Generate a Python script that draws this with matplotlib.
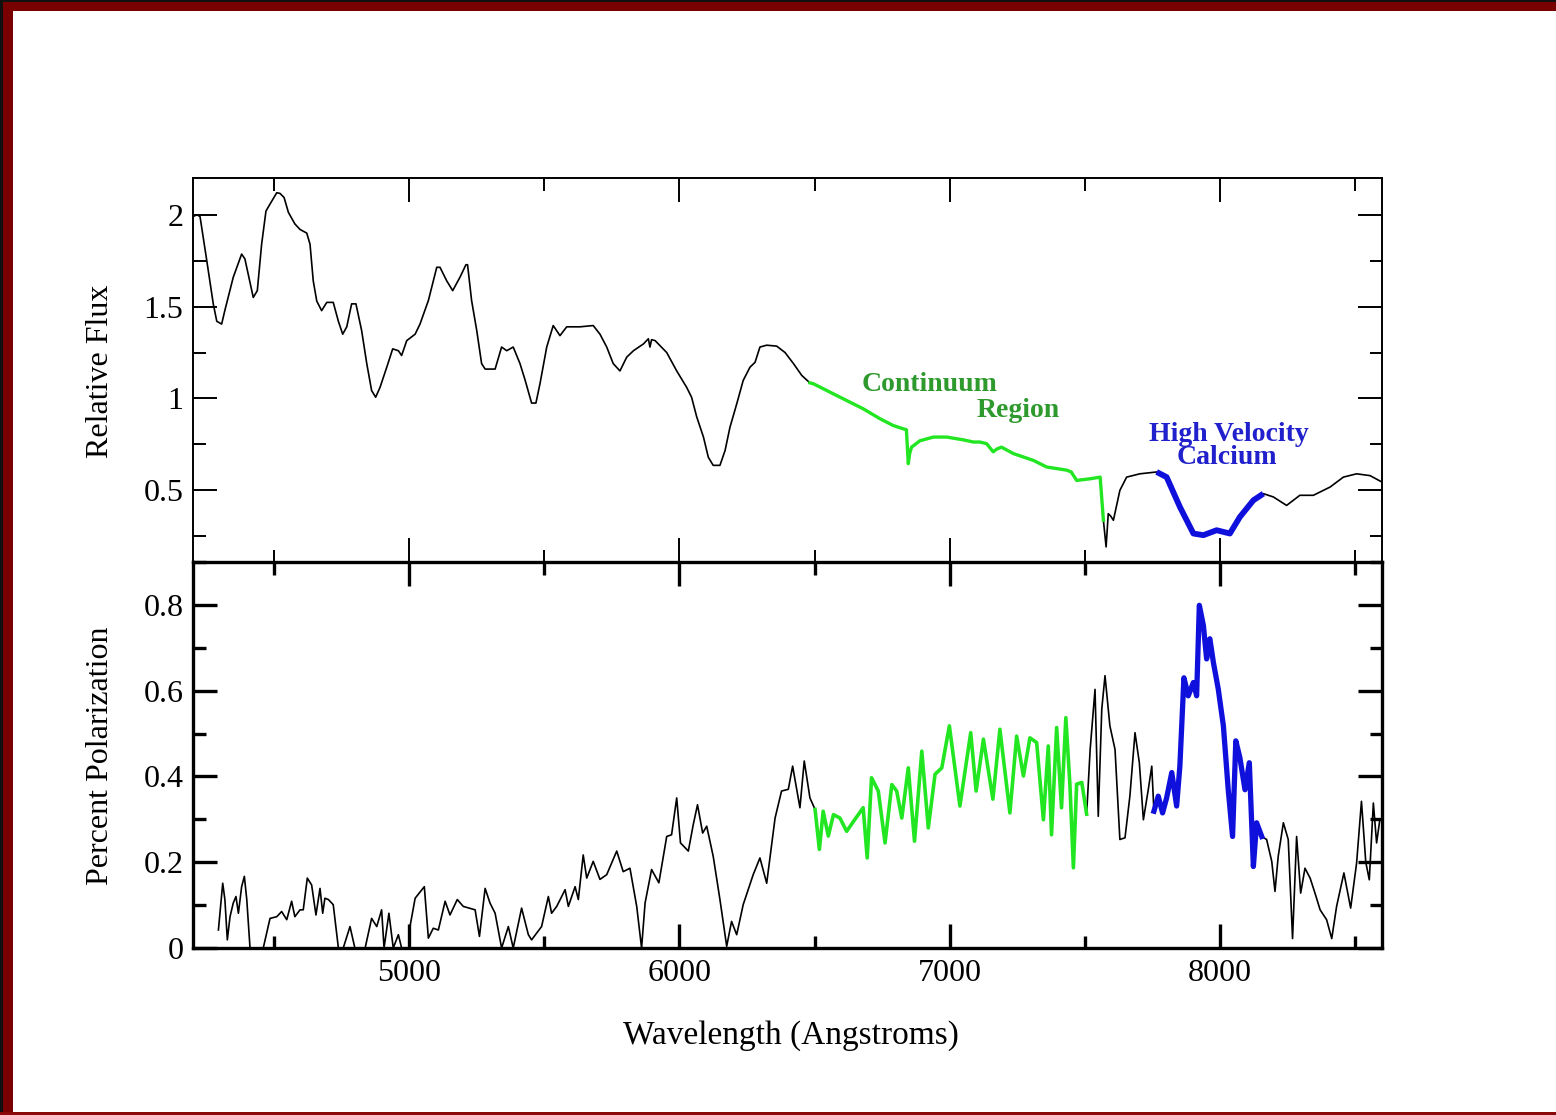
import numpy as np
import matplotlib
matplotlib.use("Agg")
import matplotlib.pyplot as plt
from matplotlib.patches import Rectangle
from matplotlib.ticker import MultipleLocator, FormatStrFormatter

plt.rcParams['font.family'] = ['Liberation Serif', 'DejaVu Serif']

# flux spectrum (wavelength in Angstroms, relative flux)
flux_wave = np.array([
    4200, 4215, 4226, 4251, 4275, 4288, 4306, 4318, 4349, 4380, 4392, 4423, 4438,
    4454, 4470, 4485, 4510, 4522, 4537, 4553, 4577, 4596, 4621, 4633, 4645, 4658,
    4676, 4695, 4719, 4738, 4754, 4769, 4787, 4803, 4824, 4843, 4861, 4876, 4892,
    4917, 4939, 4960, 4972, 4991, 5022, 5040, 5071, 5102, 5114, 5139, 5161, 5188,
    5210, 5216, 5231, 5250, 5268, 5281, 5318, 5342, 5361, 5385, 5410, 5429, 5453,
    5469, 5484, 5509, 5533, 5558, 5583, 5632, 5681, 5706, 5731, 5755, 5780, 5805,
    5830, 5867, 5885, 5891, 5897, 5910, 5953, 5990, 6027, 6045, 6064, 6089, 6107,
    6125, 6150, 6169, 6187, 6212, 6236, 6261, 6280, 6298, 6323, 6360, 6391, 6422,
    6453, 6483, 6496, 6570, 6680, 6742, 6791, 6828, 6840, 6847, 6852, 6859, 6890,
    6940, 6989, 7050, 7088, 7112, 7137, 7161, 7175, 7192, 7236, 7310, 7359, 7433,
    7450, 7470, 7520, 7557, 7569, 7579, 7587, 7596, 7606, 7630, 7655, 7704, 7766,
    7803, 7852, 7902, 7939, 7988, 8037, 8074, 8124, 8161, 8198, 8247, 8296, 8346,
    8408, 8457, 8506, 8556, 8600])
flux_val = np.array([
    1.99, 2.00, 1.99, 1.75, 1.515, 1.42, 1.405, 1.48, 1.66, 1.786, 1.76, 1.55, 1.587,
    1.84, 2.02, 2.058, 2.12, 2.116, 2.094, 2.013, 1.95, 1.92, 1.90, 1.84, 1.64, 1.53,
    1.478, 1.523, 1.523, 1.42, 1.35, 1.39, 1.515, 1.515, 1.37, 1.19, 1.043, 1.007, 1.06,
    1.17, 1.27, 1.26, 1.234, 1.315, 1.35, 1.405, 1.533, 1.714, 1.714, 1.64, 1.587, 1.66,
    1.728, 1.728, 1.533, 1.37, 1.19, 1.16, 1.16, 1.28, 1.26, 1.28, 1.19, 1.10, 0.975,
    0.975, 1.08, 1.28, 1.397, 1.342, 1.39, 1.39, 1.397, 1.35, 1.28, 1.19, 1.15, 1.225,
    1.26, 1.297, 1.325, 1.28, 1.32, 1.315, 1.25, 1.15, 1.06, 1.007, 0.90, 0.79, 0.68,
    0.636, 0.636, 0.717, 0.843, 0.97, 1.098, 1.17, 1.197, 1.28, 1.29, 1.285, 1.25, 1.19,
    1.125, 1.085, 1.08, 1.025, 0.944, 0.89, 0.853, 0.835, 0.83, 0.645, 0.70, 0.735, 0.77,
    0.79, 0.79, 0.775, 0.763, 0.763, 0.754, 0.71, 0.725, 0.735, 0.70, 0.663, 0.627, 0.61,
    0.60, 0.554, 0.563, 0.572, 0.337, 0.192, 0.373, 0.36, 0.337, 0.50, 0.572, 0.59, 0.60,
    0.572, 0.41, 0.265, 0.256, 0.283, 0.265, 0.355, 0.446, 0.482, 0.464, 0.418, 0.473, 0.473,
    0.518, 0.572, 0.59, 0.58, 0.545])

# percent polarization
pol_wave = np.array([
    4294, 4310, 4318, 4327, 4337, 4349, 4359, 4368, 4380, 4390, 4399, 4411, 4460,
    4485, 4510, 4528, 4547, 4565, 4577, 4596, 4608, 4623, 4639, 4655, 4670, 4680,
    4688, 4701, 4719, 4738, 4756, 4781, 4799, 4837, 4861, 4880, 4898, 4907, 4925,
    4941, 4960, 4972, 5000, 5003, 5022, 5056, 5071, 5089, 5108, 5133, 5151, 5178,
    5200, 5244, 5260, 5281, 5299, 5318, 5342, 5367, 5385, 5416, 5441, 5453, 5490,
    5515, 5527, 5546, 5577, 5589, 5614, 5626, 5644, 5657, 5681, 5706, 5731, 5768,
    5792, 5817, 5842, 5860, 5873, 5897, 5924, 5953, 5971, 5990, 6004, 6033, 6051,
    6067, 6086, 6101, 6125, 6150, 6175, 6193, 6212, 6236, 6273, 6298, 6323, 6354,
    6378, 6403, 6419, 6446, 6462, 6483, 6502, 6518, 6532, 6551, 6570, 6594, 6619,
    6644, 6680, 6695, 6711, 6736, 6761, 6786, 6804, 6823, 6847, 6870, 6897, 6921,
    6946, 6971, 6999, 7038, 7078, 7098, 7125, 7160, 7186, 7223, 7248, 7273, 7297,
    7322, 7347, 7365, 7377, 7396, 7414, 7430, 7445, 7458, 7470, 7489, 7507, 7520,
    7538, 7550, 7563, 7575, 7593, 7612, 7630, 7649, 7667, 7686, 7702, 7717, 7735,
    7748, 7756, 7772, 7788, 7803, 7822, 7840, 7852, 7867, 7883, 7902, 7914, 7924,
    7939, 7951, 7963, 7976, 7994, 8013, 8031, 8047, 8059, 8074, 8093, 8109, 8124,
    8136, 8155, 8173, 8192, 8204, 8216, 8235, 8253, 8269, 8284, 8299, 8315, 8334,
    8352, 8371, 8395, 8414, 8432, 8459, 8484, 8506, 8524, 8540, 8553, 8568, 8580,
    8592, 8600])
pol_val = np.array([
    0.042, 0.151, 0.113, 0.019, 0.073, 0.105, 0.12, 0.081, 0.143, 0.167, 0.113, 0.0, 0.0,
    0.069, 0.073, 0.085, 0.066, 0.109, 0.073, 0.089, 0.089, 0.163, 0.147, 0.077, 0.139, 0.081,
    0.116, 0.113, 0.101, 0.0, 0.0, 0.05, 0.0, 0.0, 0.069, 0.05, 0.089, 0.0, 0.081,
    0.0, 0.031, 0.0, 0.0, 0.05, 0.116, 0.143, 0.023, 0.046, 0.042, 0.109, 0.077, 0.113,
    0.097, 0.089, 0.027, 0.139, 0.105, 0.081, 0.0, 0.05, 0.0, 0.093, 0.031, 0.019, 0.05,
    0.12, 0.081, 0.097, 0.136, 0.097, 0.143, 0.113, 0.217, 0.163, 0.202, 0.16, 0.171, 0.226,
    0.178, 0.186, 0.097, 0.0, 0.105, 0.183, 0.152, 0.26, 0.264, 0.35, 0.245, 0.226, 0.287,
    0.334, 0.268, 0.284, 0.214, 0.113, 0.004, 0.062, 0.031, 0.101, 0.171, 0.21, 0.151, 0.303,
    0.366, 0.37, 0.424, 0.327, 0.436, 0.35, 0.323, 0.23, 0.319, 0.261, 0.311, 0.303, 0.272,
    0.295, 0.327, 0.21, 0.397, 0.366, 0.245, 0.381, 0.366, 0.303, 0.42, 0.249, 0.459, 0.28,
    0.405, 0.42, 0.518, 0.331, 0.502, 0.366, 0.487, 0.347, 0.51, 0.315, 0.494, 0.401, 0.49,
    0.479, 0.299, 0.471, 0.264, 0.514, 0.327, 0.537, 0.382, 0.187, 0.382, 0.386, 0.312, 0.463,
    0.603, 0.307, 0.557, 0.635, 0.518, 0.463, 0.253, 0.257, 0.354, 0.502, 0.432, 0.299, 0.369,
    0.424, 0.319, 0.354, 0.315, 0.35, 0.409, 0.331, 0.424, 0.63, 0.588, 0.619, 0.588, 0.799,
    0.752, 0.674, 0.721, 0.666, 0.604, 0.518, 0.369, 0.26, 0.483, 0.444, 0.369, 0.432, 0.19,
    0.292, 0.26, 0.253, 0.202, 0.132, 0.214, 0.292, 0.253, 0.022, 0.26, 0.128, 0.186, 0.163,
    0.128, 0.089, 0.066, 0.022, 0.097, 0.175, 0.093, 0.198, 0.342, 0.2, 0.159, 0.338, 0.245,
    0.299, 0.30])

# highlighted wavelength ranges
flux_continuum = (6483, 7575)
flux_calcium = (7766, 8161)
pol_continuum = (6502, 7507)
pol_calcium = (7756, 8155)

GREEN = '#22e622'
BLUE = '#1010dd'
GREEN_TXT = '#2e9a2e'
BLUE_TXT = '#2020cc'

W, H = 1556, 1115
fig = plt.figure(figsize=(W / 100, H / 100), dpi=100)
fig.patch.set_facecolor('white')


def px(x, y):
    return x / W, 1 - y / H


left, right = 193 / W, 1382 / W
ax1 = fig.add_axes([left, 1 - 562 / H, right - left, (562 - 178) / H])
ax2 = fig.add_axes([left, 1 - 948 / H, right - left, (948 - 562) / H], sharex=ax1)


def segment(wave, val, lo, hi):
    m = (wave >= lo) & (wave <= hi)
    return wave[m], val[m]


# top: flux
ax1.plot(flux_wave, flux_val, color='black', lw=1.2)
ax1.plot(*segment(flux_wave, flux_val, *flux_continuum), color=GREEN, lw=2.4)
ax1.plot(*segment(flux_wave, flux_val, *flux_calcium), color=BLUE, lw=4.2,
         solid_capstyle='butt')
ax1.set_xlim(4200, 8600)
ax1.set_ylim(0.11, 2.2)
ax1.yaxis.set_major_locator(MultipleLocator(0.5))
ax1.yaxis.set_minor_locator(MultipleLocator(0.25))
ax1.yaxis.set_major_formatter(FormatStrFormatter('%g'))
note = dict(fontsize=20, fontweight='bold', ha='center', va='center')
ax1.text(6927, 1.076, 'Continuum', color=GREEN_TXT, **note)
ax1.text(7253, 0.935, 'Region', color=GREEN_TXT, **note)
ax1.text(8032, 0.806, 'High Velocity', color=BLUE_TXT, **note)
ax1.text(8026, 0.679, 'Calcium', color=BLUE_TXT, **note)

# bottom: polarization
ax2.plot(pol_wave, pol_val, color='black', lw=1.2)
ax2.plot(*segment(pol_wave, pol_val, *pol_continuum), color=GREEN, lw=2.6)
ax2.plot(*segment(pol_wave, pol_val, *pol_calcium), color=BLUE, lw=3.8)
ax2.set_ylim(0, 0.9)
ax2.yaxis.set_major_locator(MultipleLocator(0.2))
ax2.yaxis.set_minor_locator(MultipleLocator(0.1))
ax2.yaxis.set_major_formatter(FormatStrFormatter('%g'))
ax2.xaxis.set_major_locator(MultipleLocator(1000))
ax2.xaxis.set_minor_locator(MultipleLocator(500))

for ax, lw in ((ax1, 1.4), (ax2, 2.4)):
    for s in ax.spines.values():
        s.set_linewidth(lw)
    ax.tick_params(which='both', direction='in', top=True, right=True,
                   labelsize=23, pad=7, width=lw)
    ax.tick_params(which='major', length=17)
    ax.tick_params(which='minor', length=9)
ax1.tick_params(axis='x', labelbottom=False)
ax2.tick_params(axis='x', pad=8)

fig.text(*px(100, 371), 'Relative Flux', rotation=90, fontsize=23,
         ha='center', va='center')
fig.text(*px(100, 756), 'Percent Polarization', rotation=90, fontsize=23,
         ha='center', va='center')
fig.text(*px(791, 1036), 'Wavelength (Angstroms)', fontsize=24,
         ha='center', va='center')

# dark red frame around the slide
frame = '#780000'
fig.add_artist(Rectangle((0, 1 - 11 / H), 1, 11 / H, transform=fig.transFigure,
                         color=frame, lw=0))
fig.add_artist(Rectangle((0, 0), 13 / W, 1, transform=fig.transFigure,
                         color=frame, lw=0))
fig.add_artist(Rectangle((0, 0), 3 / W, 1, transform=fig.transFigure,
                         color='#101010', lw=0))
fig.add_artist(Rectangle((0, 1 - 1.5 / H), 1, 1.5 / H, transform=fig.transFigure,
                         color='#101010', lw=0))
fig.add_artist(Rectangle((0, 0), 1, 3 / H, transform=fig.transFigure,
                         color='#8a0a0a', lw=0))

fig.savefig('out.png', dpi=100)
